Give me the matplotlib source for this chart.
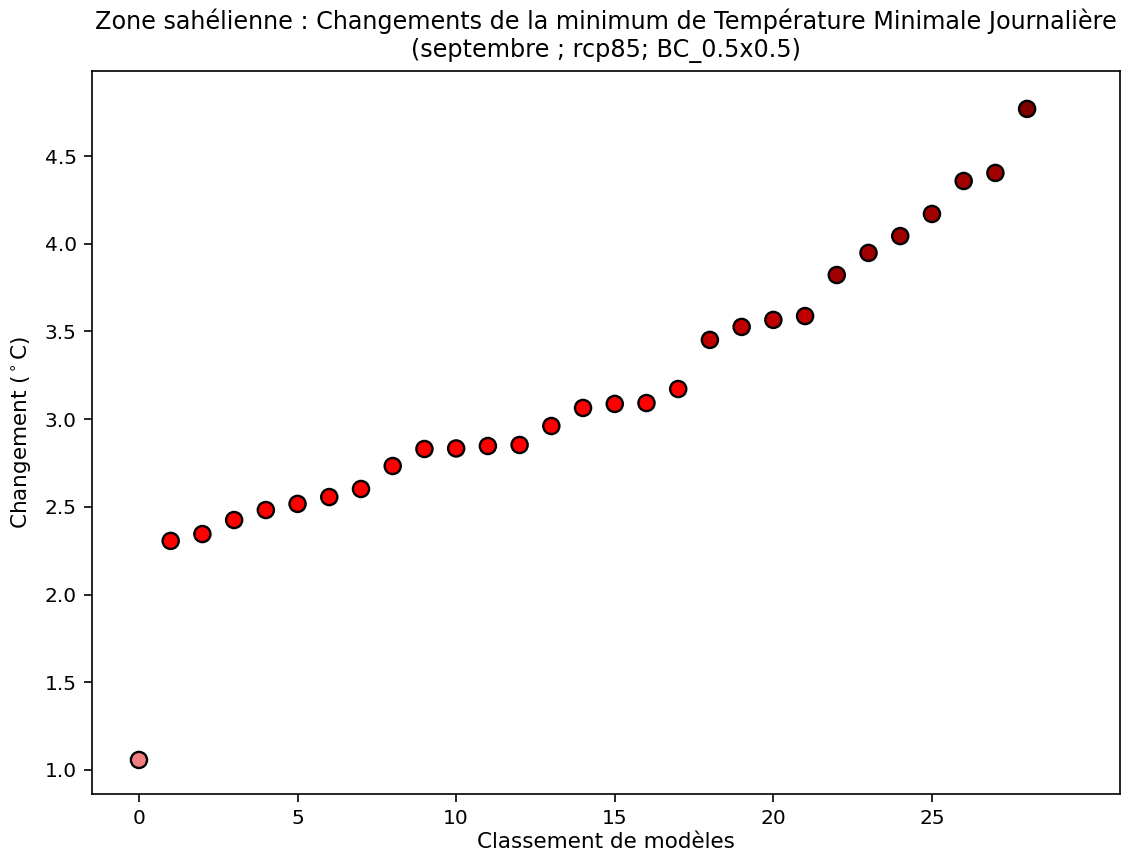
import matplotlib
matplotlib.use("Agg")
import matplotlib.pyplot as plt

ranks = list(range(29))
changes = [1.057, 2.306, 2.345, 2.425, 2.482, 2.517, 2.556, 2.602, 2.733, 2.830,
           2.833, 2.847, 2.853, 2.961, 3.064, 3.087, 3.092, 3.172, 3.452, 3.526,
           3.566, 3.588, 3.822, 3.948, 4.044, 4.170, 4.358, 4.404, 4.769]
groups = [0] + [1] * 17 + [2] * 4 + [3] * 6 + [4]
group_colors = ['#f08080', '#ff0000', '#c00000', '#a00000', '#800000']

colors = [group_colors[g] for g in groups]

plt.rcParams['font.family'] = ['DejaVu Sans']
fig = plt.figure(figsize=(11.25, 8.59), dpi=100)
ax = fig.add_axes([0.0818, 0.0757, 0.9138, 0.8416])
ax.scatter(ranks, changes, c=colors, s=135, edgecolors='black', linewidths=1.7, zorder=3)
ax.set_xlim(-1.48, 30.93)
ax.set_ylim(0.863, 4.985)
ax.set_xticks([0, 5, 10, 15, 20, 25])
ax.set_xlabel("Classement de modèles", fontsize=15.5, labelpad=3)
ax.set_ylabel("Changement ($^\\circ$C)", fontsize=15.5, labelpad=8)
ax.set_title("Zone sahélienne : Changements de la minimum de Température Minimale Journalière\n(septembre ; rcp85; BC_0.5x0.5)",
             fontsize=17.2, pad=10)
ax.tick_params(labelsize=14.5, width=1.2, length=6, pad=5)
for sp in ax.spines.values():
    sp.set_linewidth(1.2)

fig.savefig("out.png", dpi=100)
